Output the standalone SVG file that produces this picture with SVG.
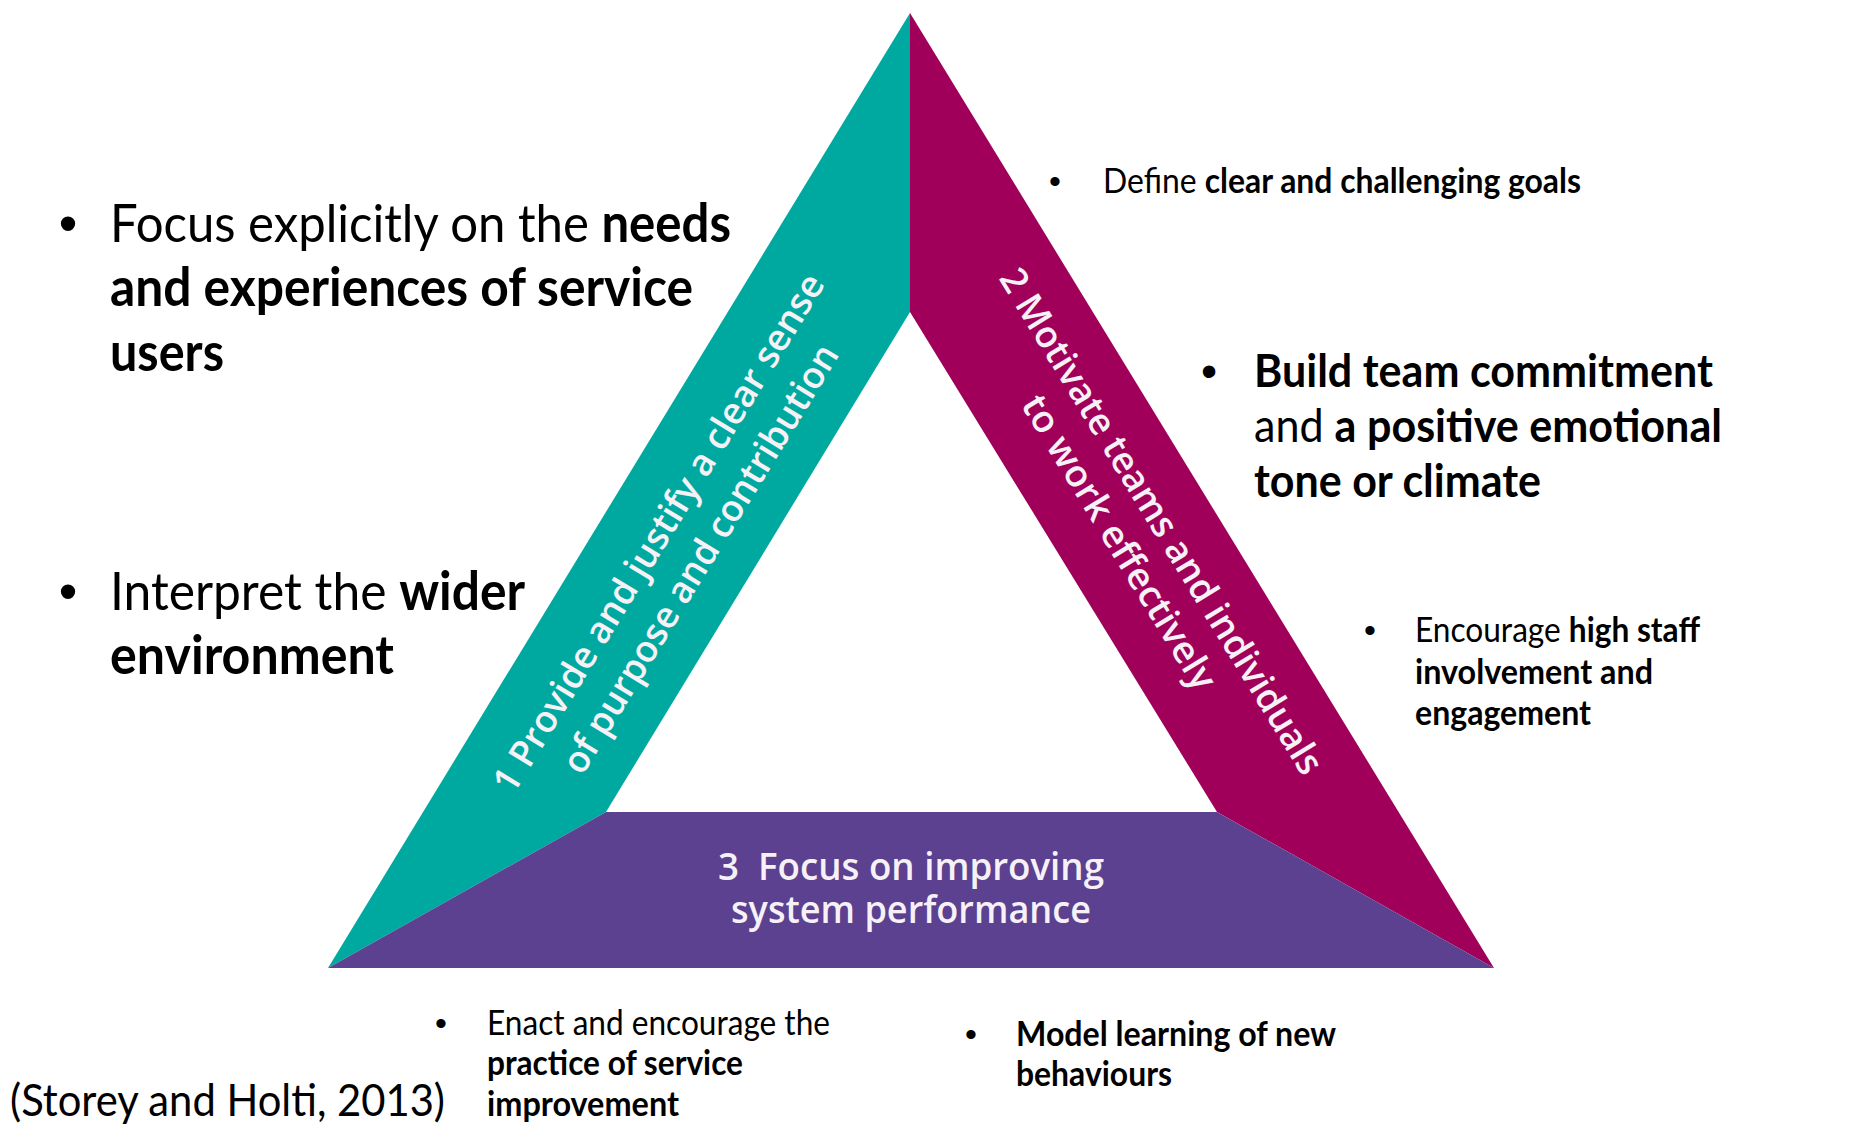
<svg xmlns="http://www.w3.org/2000/svg" width="1868" height="1126" viewBox="0 0 1868 1126">
  <style>
    .t { font-family: Lato, "Open Sans", "Liberation Sans", sans-serif; fill: #000; }
    .b { font-weight: 700; }
    .dot { font-family: "Liberation Sans", Arial, sans-serif; fill: #000; text-anchor: middle; }
    .band { font-family: "Open Sans", "Noto Sans", sans-serif; fill: #F6F1F6; font-size: 37px; font-weight: 600; text-anchor: middle; }
  </style>
  <rect width="1868" height="1126" fill="#FFFFFF"/>

  <!-- Triangle segments -->
  <g id="segment-purpose">
    <polygon points="910,13 910,312 606,812 328,968" fill="#00A9A0"/>
    <g transform="translate(660,534) rotate(-58.6)">
      <text class="band" x="0" y="11" textLength="600" lengthAdjust="spacingAndGlyphs">1 Provide and justify a clear sense</text>
      <text class="band" x="0" y="60" textLength="495" lengthAdjust="spacingAndGlyphs">of purpose and contribution</text>
    </g>
  </g>

  <g id="segment-motivate">
    <polygon points="910,13 1494,968 1217,812 910,312" fill="#A0005A"/>
    <g transform="translate(1160,522) rotate(58.6)">
      <text class="band" x="0" y="11" textLength="585" lengthAdjust="spacingAndGlyphs">2 Motivate teams and individuals</text>
      <text class="band" x="-4" y="58" textLength="338" lengthAdjust="spacingAndGlyphs">to work effectively</text>
    </g>
  </g>

  <g id="segment-performance">
    <polygon points="328,968 606,812 1217,812 1494,968" fill="#5B4190"/>
    <text class="band" x="911" y="880" textLength="386" lengthAdjust="spacingAndGlyphs">3&#160; Focus on improving</text>
    <text class="band" x="911" y="923" textLength="360" lengthAdjust="spacingAndGlyphs">system performance</text>
  </g>

  <!-- Left bullets -->
  <g id="note-service-users">
    <text class="dot" x="68" y="242" font-size="53">•</text>
    <text class="t" x="110" y="242" font-size="53" textLength="621" lengthAdjust="spacingAndGlyphs">Focus explicitly on the <tspan class="b">needs</tspan></text>
    <text class="t b" x="110" y="306" font-size="53" textLength="583" lengthAdjust="spacingAndGlyphs">and experiences of service</text>
    <text class="t b" x="110" y="371" font-size="53" textLength="114" lengthAdjust="spacingAndGlyphs">users</text>
  </g>

  <g id="note-environment">
    <text class="dot" x="68" y="610" font-size="53">•</text>
    <text class="t" x="110" y="610" font-size="53" textLength="415" lengthAdjust="spacingAndGlyphs">Interpret the <tspan class="b">wider</tspan></text>
    <text class="t b" x="110" y="674" font-size="53" textLength="284" lengthAdjust="spacingAndGlyphs">environment</text>
  </g>

  <!-- Right bullets -->
  <g id="note-goals">
    <text class="dot" x="1055" y="193" font-size="34">•</text>
    <text class="t" x="1103" y="193" font-size="34" textLength="478" lengthAdjust="spacingAndGlyphs">Define <tspan class="b">clear and challenging goals</tspan></text>
  </g>

  <g id="note-commitment">
    <text class="dot" x="1209" y="387" font-size="46">•</text>
    <text class="t b" x="1254" y="387" font-size="46" textLength="459" lengthAdjust="spacingAndGlyphs">Build team commitment</text>
    <text class="t" x="1254" y="442" font-size="46" textLength="468" lengthAdjust="spacingAndGlyphs">and <tspan class="b">a positive emotional</tspan></text>
    <text class="t b" x="1254" y="497" font-size="46" textLength="287" lengthAdjust="spacingAndGlyphs">tone or climate</text>
  </g>

  <g id="note-involvement">
    <text class="dot" x="1370" y="642" font-size="34">•</text>
    <text class="t" x="1415" y="642" font-size="34" textLength="285" lengthAdjust="spacingAndGlyphs">Encourage <tspan class="b">high staff</tspan></text>
    <text class="t b" x="1415" y="684" font-size="34" textLength="238" lengthAdjust="spacingAndGlyphs">involvement and</text>
    <text class="t b" x="1415" y="725" font-size="34" textLength="176" lengthAdjust="spacingAndGlyphs">engagement</text>
  </g>

  <!-- Bottom bullets -->
  <g id="note-improvement">
    <text class="dot" x="441" y="1035" font-size="34">•</text>
    <text class="t" x="487" y="1035" font-size="34" textLength="343" lengthAdjust="spacingAndGlyphs">Enact and encourage the</text>
    <text class="t b" x="487" y="1075" font-size="34" textLength="256" lengthAdjust="spacingAndGlyphs">practice of service</text>
    <text class="t b" x="487" y="1116" font-size="34" textLength="192" lengthAdjust="spacingAndGlyphs">improvement</text>
  </g>

  <g id="note-learning">
    <text class="dot" x="971" y="1046" font-size="34">•</text>
    <text class="t b" x="1016" y="1046" font-size="34" textLength="320" lengthAdjust="spacingAndGlyphs">Model learning of new</text>
    <text class="t b" x="1016" y="1086" font-size="34" textLength="156" lengthAdjust="spacingAndGlyphs">behaviours</text>
  </g>

  <!-- Source -->
  <g id="citation">
    <text class="t" x="10" y="1116" font-size="45" textLength="435" lengthAdjust="spacingAndGlyphs">(Storey and Holti, 2013)</text>
  </g>

  <!-- No connectors in this figure -->
  <g id="connectors"/>
</svg>
